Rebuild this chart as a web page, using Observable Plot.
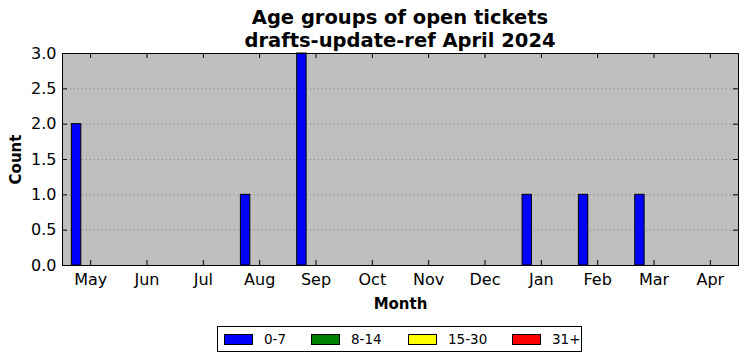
<!DOCTYPE html>
<html>
<head>
<meta charset="utf-8">
<script src="https://cdn.jsdelivr.net/npm/d3@7"></script>
<script src="https://cdn.jsdelivr.net/npm/@observablehq/plot@0.6"></script>
<style>
  body { margin: 0; background: #fff; font-family: "DejaVu Sans", sans-serif; }
  #wrap { width: 747px; height: 361px; position: relative; overflow: hidden; }
  #title { position: absolute; left: 62px; width: 676px; top: 7px; text-align: center; font-weight: bold; font-size: 19.5px; line-height: 22.5px; z-index: 2; }
  #chart { position: absolute; left: 0; top: 40px; }
  #legend { position: absolute; left: 217px; top: 326px; width: 363px; height: 24px; border: 1px solid #000; display: flex; align-items: center; font-size: 13.5px; box-sizing: content-box; }
  .item { display: flex; align-items: center; position: absolute; }
  .sw { width: 27px; height: 9px; border: 1px solid #000; margin-right: 11px; }
</style>
</head>
<body>
<div id="wrap">
  <div id="title">Age groups of open tickets<br>drafts-update-ref April 2024</div>
  <div id="chart"></div>
  <div id="legend"></div>
</div>
<script>
const months = ["May", "Jun", "Jul", "Aug", "Sep", "Oct", "Nov", "Dec", "Jan", "Feb", "Mar", "Apr"];
const seriesNames = ["0-7", "8-14", "15-30", "31+"];
const seriesColors = ["#0000ff", "#008000", "#ffff00", "#ff0000"];
const age0to7   = [2, 0, 0, 1, 3, 0, 0, 0, 1, 1, 1, 0];
const age8to14  = [0, 0, 0, 0, 0, 0, 0, 0, 0, 0, 0, 0];
const age15to30 = [0, 0, 0, 0, 0, 0, 0, 0, 0, 0, 0, 0];
const age31plus = [0, 0, 0, 0, 0, 0, 0, 0, 0, 0, 0, 0];
const yTicks = [0, 0.5, 1, 1.5, 2, 2.5, 3];

const seriesValues = [age0to7, age8to14, age15to30, age31plus];

const W = 747, H = 280;
const mL = 62, mR = 9, mT = 13, mB = 55;
const plotW = W - mL - mR, plotH = H - mT - mB;
const bw = plotW / months.length;

const barMarks = seriesValues.map((vals, k) => {
  const data = months.map((m, i) => ({month: m, value: vals[i]}));
  return Plot.barY(data, {
    x: "month", y: "value",
    fill: seriesColors[k], stroke: "#000", strokeWidth: 1,
    insetLeft: bw * (1 + k) / 6, insetRight: bw * (4 - k) / 6
  });
});

const chart = Plot.plot({
  width: W, height: H,
  marginLeft: mL, marginRight: mR, marginTop: mT, marginBottom: mB,
  style: {fontFamily: "DejaVu Sans", fontSize: "16px", background: "transparent", color: "#000", overflow: "visible"},
  x: {type: "band", domain: months, padding: 0, round: false, label: null},
  y: {domain: [0, 3], label: null},
  marks: [
    Plot.frame({fill: "#bfbfbf"}),
    Plot.gridY(yTicks, {stroke: "#7f7f7f", strokeOpacity: 1, strokeDasharray: "1,3"}),
    ...barMarks,
    Plot.tickX(months, {x: d => d, stroke: "#000", insetTop: plotH - 5}),
    Plot.tickX(months, {x: d => d, stroke: "#000", insetBottom: plotH - 5}),
    Plot.tickY(yTicks, {y: d => d, stroke: "#000", insetRight: plotW - 5}),
    Plot.tickY(yTicks, {y: d => d, stroke: "#000", insetLeft: plotW - 5}),
    Plot.axisX({tickSize: 0, tickPadding: 8, fontSize: 16, label: null}),
    Plot.axisY({ticks: yTicks, tickSize: 0, tickPadding: 6, fontSize: 16, tickFormat: d3.format(".1f"), label: null}),
    Plot.frame({stroke: "#000", strokeWidth: 1}),
    Plot.text(["Month"], {frameAnchor: "bottom", dy: 43, text: d => d, fontWeight: "bold", fontSize: 15}),
    Plot.text(["Count"], {frameAnchor: "left", dx: -46, text: d => d, rotate: -90, textAnchor: "middle", fontWeight: "bold", fontSize: 15})
  ]
});
document.getElementById("chart").appendChild(chart);

const legend = document.getElementById("legend");
const itemX = [6, 93, 190, 294];
seriesNames.forEach((name, k) => {
  const it = document.createElement("div");
  it.className = "item";
  it.style.left = itemX[k] + "px";
  const sw = document.createElement("div");
  sw.className = "sw";
  sw.style.background = seriesColors[k];
  const lab = document.createElement("span");
  lab.textContent = name;
  it.appendChild(sw); it.appendChild(lab);
  legend.appendChild(it);
});
</script>
</body>
</html>
